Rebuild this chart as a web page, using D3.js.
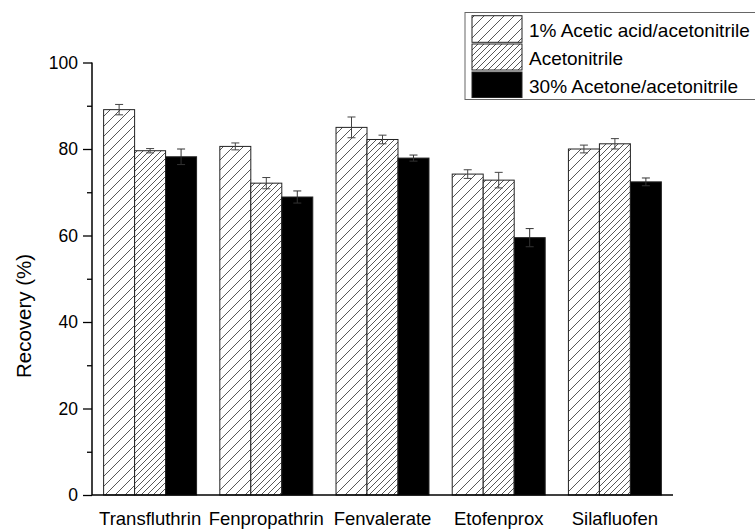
<!DOCTYPE html>
<html><head><meta charset="utf-8">
<script src="https://cdn.jsdelivr.net/npm/d3@7"></script>
<style>body{margin:0;background:#fff}svg{display:block;font-family:Arial,"Liberation Sans",sans-serif}</style>
</head><body>
<svg id="c" width="755" height="529"></svg>
<script>
const categories = ["Transfluthrin","Fenpropathrin","Fenvalerate","Etofenprox","Silafluofen"];
const seriesNames = ["1% Acetic acid/acetonitrile","Acetonitrile","30% Acetone/acetonitrile"];
const aceticValues = [89.1, 80.6, 85.0, 74.2, 80.0];
const aceticErrors = [1.2, 0.8, 2.4, 1.0, 0.9];
const acetonitrileValues = [79.6, 72.1, 82.2, 72.8, 81.2];
const acetonitrileErrors = [0.5, 1.3, 1.0, 1.8, 1.2];
const acetoneValues = [78.2, 68.9, 77.9, 59.5, 72.4];
const acetoneErrors = [1.8, 1.4, 0.7, 2.1, 0.9];
const yTicks = [0, 20, 40, 60, 80, 100];
const yMinorTicks = [10, 30, 50, 70, 90];

const svg = d3.select("#c");
const defs = svg.append("defs");
function hatch(id, s){
  const p = defs.append("pattern").attr("id", id).attr("patternUnits","userSpaceOnUse")
    .attr("width", s).attr("height", s);
  p.append("rect").attr("width", s).attr("height", s).attr("fill","#fff");
  p.append("path").attr("d", `M0,${s} L${s},0 M${-s/2},${s/2} L${s/2},${-s/2} M${s/2},${s*1.5} L${s*1.5},${s/2}`)
    .attr("stroke","#444").attr("stroke-width",0.9);
}
hatch("h1", 10);
hatch("h2", 6);
const fills = ["url(#h1)","url(#h2)","#000"];

const series = [
  {name: seriesNames[0], values: aceticValues, errors: aceticErrors},
  {name: seriesNames[1], values: acetonitrileValues, errors: acetonitrileErrors},
  {name: seriesNames[2], values: acetoneValues, errors: acetoneErrors}
];

const x0 = d3.scaleBand().domain(categories).range([92, 673]).paddingInner(0.2).paddingOuter(0.1);
const x1 = d3.scaleBand().domain(d3.range(series.length)).range([0, x0.bandwidth()]);
const y = d3.scaleLinear().domain([0, 100]).range([495, 62.5]);

// bars
series.forEach((s, si) => {
  const g = svg.append("g");
  g.selectAll("rect").data(categories).join("rect")
    .attr("x", c => x0(c) + x1(si))
    .attr("y", (c, i) => y(s.values[i]))
    .attr("width", x1.bandwidth())
    .attr("height", (c, i) => y(0) - y(s.values[i]))
    .attr("fill", fills[si]).attr("stroke", "#222").attr("stroke-width", 1);
  // error bars
  const eb = svg.append("g").attr("stroke", si === 2 ? "#333" : "#444").attr("stroke-width", 1).attr("fill","none");
  categories.forEach((c, i) => {
    const cx = x0(c) + x1(si) + x1.bandwidth() / 2;
    const top = y(s.values[i] + s.errors[i]);
    const bot = y(s.values[i] - s.errors[i]);
    eb.append("path").attr("d", `M${cx},${top}V${bot}M${cx-4},${top}H${cx+4}M${cx-4},${bot}H${cx+4}`);
  });
});

// y axis
const yAxis = svg.append("g").attr("transform", "translate(92,0)")
  .call(d3.axisLeft(y).tickValues(yTicks).tickSize(9).tickPadding(5).tickFormat(d3.format("d")));
yAxis.select(".domain").attr("stroke","#000").attr("stroke-width",1.5).attr("d", `M0,${y(0)}V${y(100)}`);
yAxis.selectAll(".tick line").attr("stroke","#000").attr("stroke-width",1.3);
yAxis.selectAll("text").attr("font-size", 17.5).attr("fill","#000").attr("font-family","Arial,'Liberation Sans',sans-serif");
svg.append("g").attr("transform", "translate(92,0)")
  .call(d3.axisLeft(y).tickValues(yMinorTicks).tickSize(5).tickFormat(""))
  .call(g => g.select(".domain").remove())
  .selectAll("line").attr("stroke","#000").attr("stroke-width",1.3);

// x axis
const xAxis = svg.append("g").attr("transform", `translate(0,${y(0)})`)
  .call(d3.axisBottom(x0).tickSize(0).tickPadding(17));
xAxis.select(".domain").attr("stroke","#000").attr("stroke-width",1.5).attr("d","M92,0H673");
xAxis.selectAll("text").attr("font-size", 18.5).attr("fill","#000").attr("font-family","Arial,'Liberation Sans',sans-serif");

// y title
svg.append("text").attr("transform", "translate(31,316) rotate(-90)")
  .attr("text-anchor","middle").attr("font-size", 20.5).text("Recovery (%)");

// legend
const lg = svg.append("g");
lg.append("rect").attr("x", 465).attr("y", 12.5).attr("width", 300).attr("height", 87)
  .attr("fill","#fff").attr("stroke","#666").attr("stroke-width",1);
const rows = [[15.7, 26.6], [44, 26], [72, 25.5]];
const baselines = [36.7, 65, 93];
series.forEach((s, si) => {
  lg.append("rect").attr("x", 472).attr("y", rows[si][0]).attr("width", 50).attr("height", rows[si][1])
    .attr("fill", fills[si]).attr("stroke","#222").attr("stroke-width",1);
  lg.append("text").attr("x", 529).attr("y", baselines[si]).attr("font-size", 19).text(s.name);
});
</script>
</body></html>
